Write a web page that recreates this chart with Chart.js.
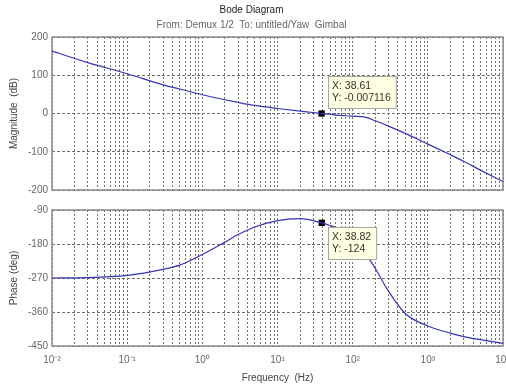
<!DOCTYPE html>
<html>
<head>
<meta charset="utf-8">
<script src="https://cdn.jsdelivr.net/npm/chart.js@4.4.0/dist/chart.umd.min.js"></script>
<style>
body { margin:0; background:#fff; width:506px; height:387px; overflow:hidden; position:relative; }
#magChart { position:absolute; left:0; top:0; }
#phaseChart { position:absolute; left:0; top:200px; }
</style>
</head>
<body>
<canvas id="magChart" width="554" height="200"></canvas>
<canvas id="phaseChart" width="520" height="187"></canvas>
<script>
// frequency points (Hz)
var freqs = [0.01, 0.03, 0.1, 0.3, 0.5, 1, 2, 3, 5, 10, 20, 38.61, 50, 60, 100, 150, 200, 300, 500, 1000, 2000, 3000, 5000, 10000]
// magnitude (dB)
var magnitude = [163, 133, 104, 75, 64, 49, 36, 29, 21, 13, 6, 0, -2, -4, -7, -10, -19, -33, -52, -80, -108, -125, -148, -178]
// phase (deg)
var phase = [-270, -269, -263, -247, -236, -208, -175, -155, -135, -118, -113, -124, -131, -137, -163, -207, -245, -305, -364, -397, -416, -425, -433, -443]

// data tips
var magTip = { x: 38.61, y: -0.007116 }
var phaseTip = { x: 38.82, y: -124 }

var decades = [-2, -1, 0, 1, 2, 3, 4]

Chart.defaults.font.family = '"Liberation Sans", Arial, sans-serif'
Chart.defaults.font.size = 10

var sup = { '-': '\u207B', '0': '\u2070', '1': '\u00B9', '2': '\u00B2', '3': '\u00B3', '4': '\u2074' }
function tickLabel(v) {
  var e = Math.round(Math.log10(v))
  if (Math.abs(Math.log10(v) - e) > 1e-6) return ''
  return '10' + String(e).split('').map(function (c) { return sup[c] }).join('')
}

function pts(ys) {
  return freqs.map(function (f, i) { return { x: f, y: ys[i] } })
}

var framePlugin = {
  id: 'frame',
  beforeDatasetsDraw: function (chart) {
    var a = chart.chartArea, ctx = chart.ctx
    ctx.save()
    ctx.strokeStyle = '#8c8c8c'
    ctx.lineWidth = 1.5
    ctx.strokeRect(a.left, a.top, a.right - a.left, a.bottom - a.top)
    ctx.restore()
  }
}

var datatipPlugin = {
  id: 'datatip',
  afterDatasetsDraw: function (chart, args, opts) {
    var pt = chart.getDatasetMeta(1).data[0]
    var raw = chart.data.datasets[1].data[0]
    var lines = ['X: ' + raw.x, 'Y: ' + raw.y]
    var ctx = chart.ctx
    ctx.save()
    ctx.font = '10.5px "Liberation Sans", Arial, sans-serif'
    var w = Math.max(ctx.measureText(lines[0]).width, ctx.measureText(lines[1]).width) + 9
    var h = 32
    var x = Math.round(pt.x + 6)
    var y = Math.round(opts.below ? pt.y + 4 : pt.y - 38)
    ctx.fillStyle = '#ffffe1'
    ctx.fillRect(x, y, w, h)
    ctx.strokeStyle = '#a8a8a0'
    ctx.lineWidth = 1
    ctx.strokeRect(x + 0.5, y + 0.5, w, h)
    ctx.fillStyle = '#333'
    ctx.textBaseline = 'middle'
    ctx.fillText(lines[0], x + 4, y + 10)
    ctx.fillText(lines[1], x + 4, y + 22)
    ctx.restore()
  }
}

function freqAxis(showLabels) {
  return {
    type: 'logarithmic',
    min: 0.01,
    max: 10000,
    afterBuildTicks: function (scale) {
      var t = []
      decades.forEach(function (d) {
        for (var m = 1; m <= 9; m++) {
          var v = m * Math.pow(10, d)
          if (v <= 10000) t.push({ value: v })
        }
      })
      scale.ticks = t
    },
    afterFit: function (scale) { if (showLabels) scale.height = 41 },
    grid: { color: '#707070', drawTicks: false },
    border: { display: false, dash: [2, 2] },
    ticks: { display: showLabels, autoSkip: false, maxRotation: 0, minRotation: 0, padding: 8, color: '#666', callback: tickLabel },
    title: { display: showLabels, text: 'Frequency  (Hz)', color: '#444', padding: { top: 0, bottom: 3 } }
  }
}

function valueAxis(title, min, max, step) {
  return {
    min: min,
    max: max,
    afterFit: function (scale) { scale.width = 52 },
    grid: { color: '#707070', drawTicks: false },
    border: { display: false, dash: [3, 2] },
    ticks: { stepSize: step, padding: 4, color: '#666' },
    title: { display: true, text: title, color: '#444', padding: { top: 8, bottom: 0 } }
  }
}

var lineColor = '#3535b5'

new Chart(document.querySelector('#magChart'), {
  type: 'line',
  data: {
    datasets: [{
      data: pts(magnitude),
      borderColor: lineColor,
      borderWidth: 1.2,
      pointRadius: 0,
      cubicInterpolationMode: 'monotone'
    }, {
      data: [magTip],
      showLine: false,
      pointStyle: 'rect',
      pointRadius: 4.5,
      backgroundColor: '#000',
      borderColor: '#000',
      borderWidth: 0
    }]
  },
  options: {
    responsive: false,
    animation: false,
    devicePixelRatio: 1,
    layout: { padding: { left: 0, right: 51, top: 0, bottom: 6 } },
    scales: {
      x: freqAxis(false),
      y: valueAxis('Magnitude  (dB)', -200, 200, 100)
    },
    plugins: {
      legend: { display: false },
      tooltip: { enabled: false },
      title: { display: true, text: 'Bode Diagram', color: '#222', font: { size: 10, weight: 'normal' }, padding: { top: 4, bottom: 3 } },
      subtitle: { display: true, text: 'From: Demux 1/2  To: untitled/Yaw  Gimbal', color: '#666', font: { size: 10 }, padding: { top: 0, bottom: 6 } },
      datatip: { below: false }
    }
  },
  plugins: [framePlugin, datatipPlugin]
})

new Chart(document.querySelector('#phaseChart'), {
  type: 'line',
  data: {
    datasets: [{
      data: pts(phase),
      borderColor: lineColor,
      borderWidth: 1.2,
      pointRadius: 0,
      cubicInterpolationMode: 'monotone'
    }, {
      data: [phaseTip],
      showLine: false,
      pointStyle: 'rect',
      pointRadius: 4.5,
      backgroundColor: '#000',
      borderColor: '#000',
      borderWidth: 0
    }]
  },
  options: {
    responsive: false,
    animation: false,
    devicePixelRatio: 1,
    layout: { padding: { left: 0, right: 17, top: 7, bottom: 0 } },
    scales: {
      x: freqAxis(true),
      y: valueAxis('Phase (deg)', -450, -90, 90)
    },
    plugins: {
      legend: { display: false },
      tooltip: { enabled: false },
      datatip: { below: true }
    }
  },
  plugins: [framePlugin, datatipPlugin]
})
</script>
</body>
</html>
